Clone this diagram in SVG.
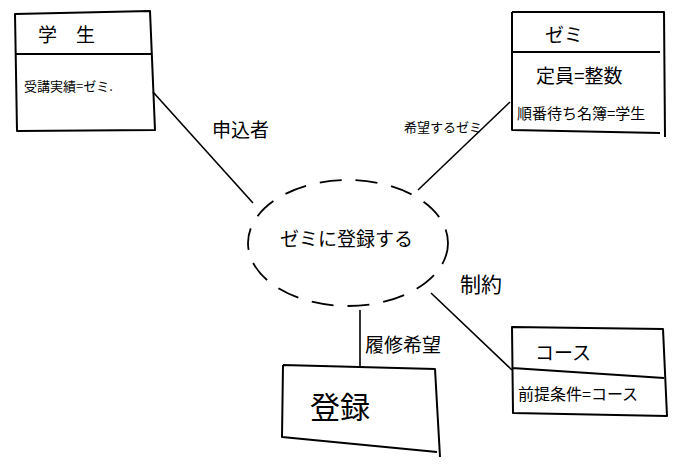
<svg xmlns="http://www.w3.org/2000/svg" width="676" height="467" viewBox="0 0 676 467">
<style>
.box{fill:none;stroke:#000;stroke-width:2;stroke-linejoin:round}
.ln{fill:none;stroke:#000;stroke-width:1.6}
text{font-family:"Noto Sans CJK JP","Noto Sans",sans-serif;fill:#000}
.t{font-size:19px}
.a{font-size:16px}
.l{font-size:19px}
</style>
<rect width="676" height="467" fill="#fff"/>
<g id="connectors">
<path class="ln" d="M153 92 L253 203"/>
<path class="ln" d="M510 102 L418 190"/>
<path class="ln" d="M360 310 L360 366"/>
<path class="ln" d="M431 293 Q470 330 512 370"/>
<text class="l" x="212" y="137">申込者</text>
<text class="l" x="404" y="132" style="font-size:13px">希望するゼミ</text>
<text class="l" x="365" y="352">履修希望</text>
<text class="l" x="460" y="292" style="font-size:21px">制約</text>
</g>
<g id="student">
<path class="box" d="M15 14 L150 11 L155 130 L17 131 Z M16 54 L151 54"/>
<text class="t" x="38" y="42">学　生</text>
<text class="a" x="24" y="91" style="font-size:13px">受講実績=ゼミ.</text>
</g>
<g id="seminar">
<path class="box" d="M512 12 L664 12 L665 137 M512 12 L512 130 L660 133 M512 52 L660 52"/>
<text class="t" x="545" y="42">ゼミ</text>
<text class="t" x="536" y="83">定員=整数</text>
<text class="a" x="517" y="119" style="font-size:15px">順番待ち名簿=学生</text>
</g>
<g id="usecase">
<ellipse cx="348" cy="243" rx="100" ry="63" fill="none" stroke="#000" stroke-width="1.8" stroke-dasharray="22 14"/>
<text class="t" x="280" y="246">ゼミに登録する</text>
</g>
<g id="registration">
<path class="box" d="M283 365 L435 369 L440 457 M283 365 L282 437 L437 452"/>
<text x="310" y="418" style="font-size:30px">登録</text>
</g>
<g id="course">
<path class="box" d="M512 327 L663 329 L667 416 L513 413 Z M512 368 L664 378"/>
<text class="t" x="535" y="360">コース</text>
<text class="a" x="518" y="400">前提条件=コース</text>
</g>
</svg>
